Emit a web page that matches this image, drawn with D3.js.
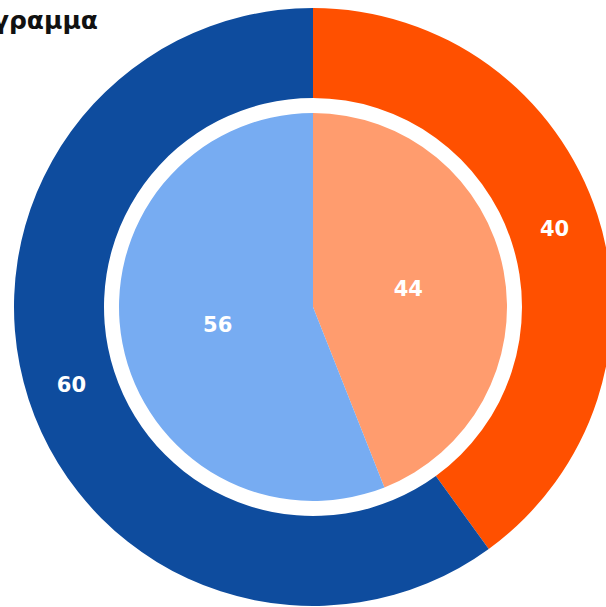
<!DOCTYPE html>
<html lang="el">
<head>
<meta charset="utf-8">
<title>Διάγραμμα</title>
<script src="https://cdn.jsdelivr.net/npm/d3@7"></script>
<style>
  body { margin: 0; background: #fff; }
  svg { display: block; }
  .lbl { font-family: "DejaVu Sans", sans-serif; font-weight: bold; font-size: 21px; fill: #fff; }
  .title { font-family: "DejaVu Sans", sans-serif; font-weight: bold; font-size: 25px; fill: #111; }
</style>
</head>
<body>
<script>
// data
const outerCats = ["A", "B"];
const outerVals = [40, 60];
const innerCats = ["A", "B"];
const innerVals = [44, 56];
const outerColors = ["#FF5000", "#0E4C9E"];
const innerColors = ["#FF9C6E", "#77ACF2"];

const w = 606, h = 607;
const cx = 313, cy = 307;

const svg = d3.select("body").append("svg")
    .attr("width", w)
    .attr("height", h);

// title is partly cut off at the left in the reference
svg.append("text")
    .attr("class", "title")
    .attr("x", 98)
    .attr("y", 29)
    .attr("text-anchor", "end")
    .text("Διάγραμμα");

const pie = d3.pie().sort(null).value(d => d.v);

const outer = outerCats.map((c, i) => ({c: c, v: outerVals[i], col: outerColors[i]}));
const inner = innerCats.map((c, i) => ({c: c, v: innerVals[i], col: innerColors[i]}));

const outerArc = d3.arc().innerRadius(209).outerRadius(299);
const innerArc = d3.arc().innerRadius(0).outerRadius(194);

const g = svg.append("g").attr("transform", `translate(${cx},${cy})`);

g.selectAll("path.outer")
    .data(pie(outer))
    .enter()
    .append("path")
    .attr("class", "outer")
    .attr("d", outerArc)
    .attr("fill", d => d.data.col);

g.selectAll("path.inner")
    .data(pie(inner))
    .enter()
    .append("path")
    .attr("class", "inner")
    .attr("d", innerArc)
    .attr("fill", d => d.data.col);

g.selectAll("text.o")
    .data(pie(outer))
    .enter()
    .append("text")
    .attr("class", "lbl o")
    .attr("transform", d => `translate(${outerArc.centroid(d)})`)
    .attr("text-anchor", "middle")
    .attr("dominant-baseline", "central")
    .text(d => d.data.v);

g.selectAll("text.i")
    .data(pie(inner))
    .enter()
    .append("text")
    .attr("class", "lbl i")
    .attr("transform", d => `translate(${innerArc.centroid(d)})`)
    .attr("text-anchor", "middle")
    .attr("dominant-baseline", "central")
    .text(d => d.data.v);
</script>
</body>
</html>
